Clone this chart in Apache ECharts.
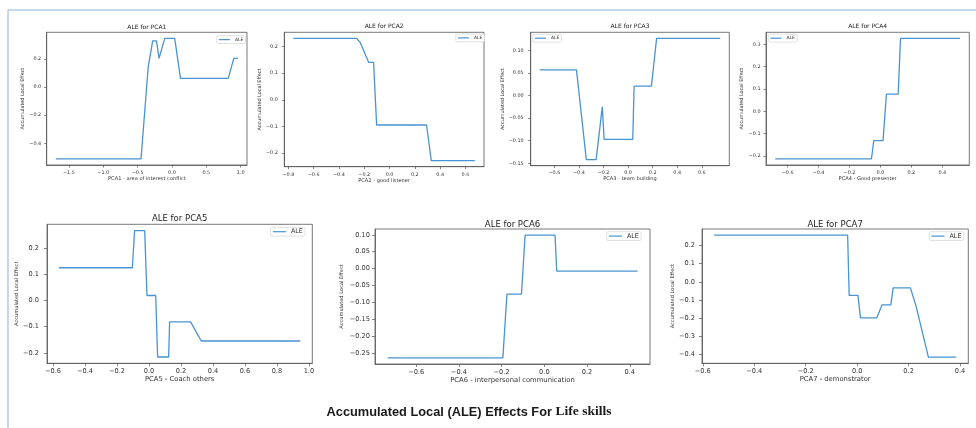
<!DOCTYPE html>
<html><head><meta charset="utf-8">
<script src="https://cdn.jsdelivr.net/npm/echarts@6/dist/echarts.min.js"></script>
<style>html,body{margin:0;padding:0;background:#fff}#c{width:976px;height:428px}</style>
</head><body><div id="c"></div>
<script>
// ---------- DATA ----------
const panelTitles = ['ALE for PCA1','ALE for PCA2','ALE for PCA3','ALE for PCA4','ALE for PCA5','ALE for PCA6','ALE for PCA7'];
const xAxisNames = ['PCA1 - area of interest conflict','PCA2 - good listener','PCA3 - team building','PCA4 - Good presenter','PCA5 - Coach others','PCA6 - interpersonal communication','PCA7 - demonstrator'];
const yAxisName = 'Accumulated Local Effect';
const seriesName = 'ALE';
const mainTitleA = 'Accumulated Local (ALE) Effects For ';
const mainTitleB = 'Life skills';

const pca1X = [-1.69, -0.45, -0.345, -0.28, -0.225, -0.187, -0.105, 0.04, 0.125, 0.82, 0.9, 0.96];
const pca1Y = [-0.512, -0.512, 0.145, 0.33, 0.33, 0.205, 0.348, 0.348, 0.062, 0.062, 0.205, 0.205];
const pca2X = [-0.76, -0.26, -0.23, -0.165, -0.126, -0.102, 0.293, 0.33, 0.675];
const pca2Y = [0.231, 0.231, 0.214, 0.141, 0.141, -0.095, -0.095, -0.229, -0.229];
const pca3X = [-0.719, -0.42, -0.34, -0.26, -0.21, -0.195, 0.038, 0.049, 0.19, 0.232, 0.75];
const pca3Y = [0.057, 0.057, -0.142, -0.142, -0.025, -0.097, -0.097, 0.021, 0.021, 0.127, 0.127];
const pca4X = [-0.68, -0.058, -0.043, 0.017, 0.039, 0.115, 0.13, 0.515];
const pca4Y = [-0.213, -0.213, -0.131, -0.131, 0.077, 0.077, 0.327, 0.327];
const pca5X = [-0.5625, -0.104, -0.09, -0.027, -0.0125, 0.042, 0.054, 0.123, 0.129, 0.26, 0.327, 0.946];
const pca5Y = [0.125, 0.125, 0.267, 0.267, 0.019, 0.019, -0.216, -0.216, -0.082, -0.082, -0.155, -0.155];
const pca6X = [-0.734, -0.194, -0.175, -0.107, -0.09, 0.05, 0.058, 0.436];
const pca6Y = [-0.263, -0.263, -0.075, -0.075, 0.099, 0.099, -0.007, -0.007];
const pca7X = [-0.556, -0.037, -0.031, 0.003, 0.013, 0.076, 0.097, 0.131, 0.14, 0.207, 0.229, 0.277, 0.385];
const pca7Y = [0.258, 0.258, -0.075, -0.075, -0.199, -0.199, -0.127, -0.127, -0.033, -0.033, -0.134, -0.416, -0.416];

const pca1XTicks = [-1.5, -1.0, -0.5, 0.0, 0.5, 1.0];
const pca1YTicks = [-0.4, -0.2, 0.0, 0.2];
const pca2XTicks = [-0.8, -0.6, -0.4, -0.2, 0.0, 0.2, 0.4, 0.6];
const pca2YTicks = [-0.2, -0.1, 0.0, 0.1, 0.2];
const pca3XTicks = [-0.6, -0.4, -0.2, 0.0, 0.2, 0.4, 0.6];
const pca3YTicks = [-0.15, -0.10, -0.05, 0.00, 0.05, 0.10];
const pca4XTicks = [-0.6, -0.4, -0.2, 0.0, 0.2, 0.4];
const pca4YTicks = [-0.2, -0.1, 0.0, 0.1, 0.2, 0.3];
const pca5XTicks = [-0.6, -0.4, -0.2, 0.0, 0.2, 0.4, 0.6, 0.8, 1.0];
const pca5YTicks = [-0.2, -0.1, 0.0, 0.1, 0.2];
const pca6XTicks = [-0.6, -0.4, -0.2, 0.0, 0.2, 0.4];
const pca6YTicks = [-0.25, -0.20, -0.15, -0.10, -0.05, 0.00, 0.05, 0.10];
const pca7XTicks = [-0.6, -0.4, -0.2, 0.0, 0.2, 0.4];
const pca7YTicks = [-0.4, -0.3, -0.2, -0.1, 0.0, 0.1, 0.2];
const yTickDecimals = [1, 1, 2, 1, 1, 2, 1];

// ---------- LAYOUT / STYLE ----------
const FONT = 'DejaVu Sans';
const LINE = '#4a93d2';
const AX = '#555';
const TXT = '#333';
const xs = [pca1X, pca2X, pca3X, pca4X, pca5X, pca6X, pca7X];
const ys = [pca1Y, pca2Y, pca3Y, pca4Y, pca5Y, pca6Y, pca7Y];
const xt = [pca1XTicks, pca2XTicks, pca3XTicks, pca4XTicks, pca5XTicks, pca6XTicks, pca7XTicks];
const yt = [pca1YTicks, pca2YTicks, pca3YTicks, pca4YTicks, pca5YTicks, pca6YTicks, pca7YTicks];

// box: [left, top, right, bottom]
const L = [
  {box:[46.7,32.3,247,165],   tY:28,   tFs:6,   kFs:4.9, xnFs:5.1, ynFs:4.9, yM:5.5, xM:2.8, yG:19,   xG:9,   leg:[216.7,35.7], lW:11, lFs:4.5, tk:2.5},
  {box:[284.3,32.3,484,166.7],tY:27.3, tFs:6,   kFs:4.9, xnFs:5.1, ynFs:4.9, yM:6.5, xM:3,   yG:18.5, xG:9.8, leg:[455.7,34],   lW:11, lFs:4.5, tk:2.5},
  {box:[530.7,32.3,729.3,165.7],tY:27.3,tFs:6,  kFs:4.9, xnFs:5.1, ynFs:4.9, yM:7,   xM:2.5, yG:23,   xG:8.5, leg:[532.7,34.3], lW:11, lFs:4.5, tk:2.5},
  {box:[766,32.3,969.3,165],  tY:27.3, tFs:6,   kFs:4.9, xnFs:5.1, ynFs:4.9, yM:5.5, xM:3,   yG:19.5, xG:9.2, leg:[768.3,34.3], lW:11, lFs:4.5, tk:2.5},
  {box:[47,224.3,312.3,363.3],tY:219,  tFs:8.5, kFs:6.6, xnFs:6.8, ynFs:5.1, yM:8,   xM:1.5, yG:24.5, xG:9,   leg:[270.7,227.3],lW:13, lFs:6.4, tk:3},
  {box:[375,229,650,364],     tY:225,  tFs:8.5, kFs:6.6, xnFs:6.8, ynFs:5.1, yM:5,   xM:2,   yG:31,   xG:9,   leg:[606.7,231.7],lW:13, lFs:6.4, tk:3},
  {box:[702,229,968.3,363.3], tY:225,  tFs:8.5, kFs:6.6, xnFs:6.8, ynFs:5.1, yM:7,   xM:1.5, yG:24.5, xG:9.5, leg:[929.3,231.7],lW:13, lFs:6.4, tk:3}
];

function lim(arr) {
  const mn = Math.min(...arr), mx = Math.max(...arr), m = (mx - mn) * 0.05;
  return [mn - m, mx + m];
}
function fmt(dec) {
  return v => (v < 0 ? '\u2212' : '') + Math.abs(v).toFixed(dec);
}

const grid = [], xAxis = [], yAxis = [], series = [], title = [], legend = [];
L.forEach((p, i) => {
  const [l, t, r, b] = p.box;
  grid.push({left: l, top: t, width: r - l, height: b - t, show: true, borderColor: AX, borderWidth: 0.8, backgroundColor: 'transparent', containLabel: false});
  const xl = lim(xs[i]), yl = lim(ys[i]);
  xAxis.push({
    type: 'value', gridIndex: i, min: xl[0], max: xl[1],
    axisLine: {show: true, onZero: false, lineStyle: {color: AX, width: 0.8}},
    axisTick: {show: true, length: p.tk, customValues: xt[i], lineStyle: {color: AX, width: 0.7}},
    axisLabel: {customValues: xt[i], formatter: fmt(1), fontSize: p.kFs, fontFamily: FONT, color: TXT, margin: p.xM + p.tk},
    splitLine: {show: false},
    name: xAxisNames[i], nameLocation: 'middle', nameGap: p.xG,
    nameTextStyle: {fontSize: p.xnFs, fontFamily: FONT, color: TXT}
  });
  yAxis.push({
    type: 'value', gridIndex: i, min: yl[0], max: yl[1],
    axisLine: {show: true, onZero: false, lineStyle: {color: AX, width: 0.8}},
    axisTick: {show: true, length: p.tk, customValues: yt[i], lineStyle: {color: AX, width: 0.7}},
    axisLabel: {customValues: yt[i], formatter: fmt(yTickDecimals[i]), fontSize: p.kFs, fontFamily: FONT, color: TXT, margin: p.yM},
    splitLine: {show: false},
    name: yAxisName, nameLocation: 'middle', nameGap: p.yG, nameRotate: 90,
    nameTextStyle: {fontSize: p.ynFs, fontFamily: FONT, color: TXT}
  });
  series.push({
    type: 'line', name: seriesName, xAxisIndex: i, yAxisIndex: i,
    data: xs[i].map((x, k) => [x, ys[i][k]]),
    symbol: 'none', lineStyle: {color: LINE, width: 1.3}, itemStyle: {color: LINE},
    animation: false, silent: true
  });
  title.push({
    text: panelTitles[i], left: (l + r) / 2, top: p.tY - p.tFs * 0.6, textAlign: 'center', padding: 0,
    textStyle: {fontSize: p.tFs, fontWeight: 'normal', fontFamily: FONT, color: '#222'}
  });
  legend.push({
    data: [{name: seriesName, icon: 'rect'}], left: p.leg[0], top: p.leg[1],
    itemWidth: p.lW, itemHeight: 1.2, padding: [1.4, 2.2], borderColor: '#ccc', borderWidth: 0.6, borderRadius: 1.5,
    backgroundColor: '#fff', selectedMode: false,
    textStyle: {fontSize: p.lFs, fontFamily: FONT, color: TXT}
  });
});

title.push({
  text: '{a|' + mainTitleA + '}{b|' + mainTitleB + '}', left: 469, top: 405, textAlign: 'center', padding: 0,
  textStyle: {
    rich: {
      a: {fontFamily: 'Liberation Sans', fontWeight: 'bold', fontSize: 12.8, color: '#1a1a1a'},
      b: {fontFamily: 'Liberation Serif', fontWeight: 'bold', fontSize: 13.5, color: '#1a1a1a'}
    }
  }
});

const chart = echarts.init(document.getElementById('c'), null, {renderer: 'canvas'});
chart.setOption({
  animation: false,
  backgroundColor: '#fff',
  grid, xAxis, yAxis, series, title, legend,
  graphic: [
    {type: 'line', shape: {x1: 8, y1: 10, x2: 976, y2: 10}, style: {stroke: '#b3cbea', lineWidth: 1.5}, silent: true},
    {type: 'line', shape: {x1: 8, y1: 10, x2: 8, y2: 428}, style: {stroke: '#b3cbea', lineWidth: 1.5}, silent: true}
  ]
});
</script>
</body></html>
